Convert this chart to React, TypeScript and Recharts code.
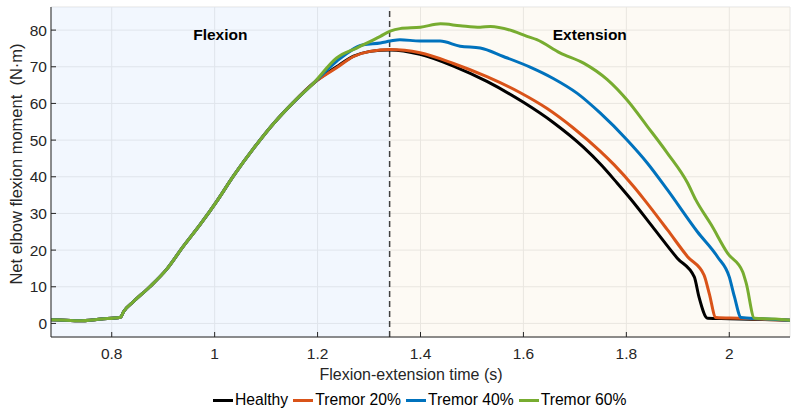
import React from 'react';
import { LineChart, Line, XAxis, YAxis, CartesianGrid, ReferenceArea, ReferenceLine, Legend } from 'recharts';

const FONT = '"Liberation Sans", Arial, Helvetica, sans-serif';

// Shared flexion phase (all conditions overlap)
const riseTime = [0.682, 0.71, 0.735, 0.78, 0.817, 0.823, 0.842, 0.874, 0.907, 0.939, 0.972, 1.004, 1.037, 1.076, 1.115, 1.153, 1.192];
const riseMoment = [1.0, 0.9, 0.7, 1.2, 1.7, 3.2, 5.9, 10.0, 14.8, 21.0, 27.0, 33.3, 40.3, 47.8, 54.6, 60.3, 65.5];

const healthyTime = [1.237, 1.27, 1.302, 1.341, 1.399, 1.464, 1.529, 1.6, 1.658, 1.717, 1.75, 1.782, 1.808, 1.854, 1.899, 1.932, 1.941, 1.958, 2.0, 2.06, 2.118];
const healthyMoment = [70.0, 72.9, 74.2, 74.6, 73.4, 70.2, 66.0, 60.3, 54.8, 48.0, 43.4, 38.3, 34.0, 25.8, 17.8, 12.7, 7.3, 1.4, 1.3, 1.1, 0.9];

const tremor20Time = [1.237, 1.27, 1.302, 1.341, 1.399, 1.464, 1.529, 1.594, 1.646, 1.697, 1.749, 1.776, 1.815, 1.834, 1.88, 1.919, 1.951, 1.961, 1.974, 2.02, 2.07, 2.118];
const tremor20Moment = [69.7, 72.8, 74.2, 74.7, 73.8, 70.9, 67.3, 62.9, 58.6, 53.3, 47.0, 43.3, 37.2, 33.9, 25.5, 18.2, 13.2, 8.2, 1.6, 1.4, 1.1, 0.9];

const tremor40Time = [1.237, 1.289, 1.322, 1.341, 1.36, 1.399, 1.438, 1.477, 1.516, 1.561, 1.613, 1.658, 1.704, 1.749, 1.801, 1.841, 1.88, 1.938, 1.977, 2.0, 2.01, 2.023, 2.06, 2.118];
const tremor40Moment = [71.5, 76.0, 76.5, 77.0, 77.4, 77.0, 77.0, 75.6, 75.1, 72.8, 69.9, 66.8, 62.8, 57.4, 50.1, 43.7, 36.4, 25.0, 18.2, 12.7, 7.3, 1.6, 1.3, 0.9];

const tremor60Time = [1.237, 1.276, 1.322, 1.341, 1.36, 1.4, 1.439, 1.477, 1.516, 1.536, 1.581, 1.607, 1.626, 1.671, 1.717, 1.763, 1.801, 1.841, 1.88, 1.919, 1.935, 1.965, 1.997, 2.026, 2.033, 2.049, 2.09, 2.118];
const tremor60Moment = [72.4, 75.1, 78.3, 79.7, 80.4, 80.8, 81.7, 81.2, 80.8, 81.0, 79.7, 78.3, 77.4, 73.8, 71.0, 66.5, 61.0, 53.7, 46.4, 38.3, 33.7, 26.9, 19.1, 14.1, 10.9, 1.4, 1.2, 0.9];

const seriesNames = ['Healthy', 'Tremor 20%', 'Tremor 40%', 'Tremor 60%'];
const seriesColors = ['#000000', '#D95319', '#0072BD', '#77AC30'];

const xTicks = [0.8, 1, 1.2, 1.4, 1.6, 1.8, 2];
const yTicks = [0, 10, 20, 30, 40, 50, 60, 70, 80];
const xDomain = [0.682, 2.118];
const yDomain = [-3.7, 86.3];
const phaseSplit = 1.34;

const build = (t: number[], v: number[]) => {
  const all = riseTime.map((x, i) => ({ t: x, m: riseMoment[i] }));
  return all.concat(t.map((x, i) => ({ t: x, m: v[i] })));
};

const seriesData = [
  build(healthyTime, healthyMoment),
  build(tremor20Time, tremor20Moment),
  build(tremor40Time, tremor40Moment),
  build(tremor60Time, tremor60Moment),
];

const tickStyle = { fill: '#262626', fontSize: 15.5, fontFamily: FONT };

const renderLegend = () => (
  <div style={{ paddingLeft: 213, paddingTop: 9, display: 'flex', justifyContent: 'flex-start', alignItems: 'center', fontFamily: FONT, fontSize: 15.7, color: '#000', lineHeight: '18px' }}>
    {seriesNames.map((n, i) => (
      <div key={n} style={{ display: 'flex', alignItems: 'center', marginRight: i < 3 ? 5 : 0 }}>
        <div style={{ width: 20, height: 3, background: seriesColors[i], marginRight: 2 }} />
        <span>{n}</span>
      </div>
    ))}
  </div>
);

export default function App() {
  return (
    <div style={{ position: 'absolute', left: 0, top: 0, width: 797, height: 412, background: '#fff' }}>
      <LineChart width={797} height={412} margin={{ top: 7, right: 7, bottom: 0, left: 0 }}>
        <ReferenceArea x1={xDomain[0]} x2={phaseSplit} fill="#dbe9fb" fillOpacity={0.35} stroke="none"
          label={{ value: 'Flexion', position: 'insideTop', offset: 22, fill: '#000', fontSize: 15.5, fontWeight: 'bold', fontFamily: FONT }} />
        <ReferenceArea x1={phaseSplit} x2={xDomain[1]} fill="#f8f0dc" fillOpacity={0.3} stroke="none"
          label={{ value: 'Extension', position: 'insideTop', offset: 22, fill: '#000', fontSize: 15.5, fontWeight: 'bold', fontFamily: FONT }} />
        <CartesianGrid stroke="#e3e3e3" strokeWidth={1} />
        <XAxis dataKey="t" type="number" domain={xDomain} ticks={xTicks} allowDataOverflow
          height={45} tickSize={-5} tickMargin={16} tick={tickStyle}
          axisLine={{ stroke: '#262626' }} tickLine={{ stroke: '#262626' }}
          label={{ content: () => (
            <text x={411} y={380} textAnchor="middle" fill="#262626" fontSize={16} fontFamily={FONT}>Flexion-extension time (s)</text>
          ) }} />
        <XAxis xAxisId="top" orientation="top" type="number" domain={xDomain} ticks={xTicks} allowDataOverflow
          height={0} tickSize={-5} tick={false} axisLine={{ stroke: '#262626' }} tickLine={{ stroke: '#262626' }} />
        <YAxis type="number" domain={yDomain} ticks={yTicks} allowDataOverflow width={51}
          tickSize={-5} tickMargin={9} tick={tickStyle}
          axisLine={{ stroke: '#262626' }} tickLine={{ stroke: '#262626' }}
          label={{ content: () => (
            <text x={15.5} y={164} transform="rotate(-90 15.5 164)" textAnchor="middle" dominantBaseline="central" fill="#262626" fontSize={16.5} fontFamily={FONT}>{'Net elbow flexion moment\u00a0\u00a0(N·m)'}</text>
          ) }} />
        <YAxis yAxisId="right" orientation="right" type="number" domain={yDomain} ticks={yTicks} allowDataOverflow width={0}
          tickSize={-5} tick={false} axisLine={{ stroke: '#262626' }} tickLine={{ stroke: '#262626' }} />
        <ReferenceLine x={phaseSplit} stroke="#404040" strokeWidth={1.5} strokeDasharray="6 4" />
        {seriesData.map((d, i) => (
          <Line key={seriesNames[i]} data={d} dataKey="m" name={seriesNames[i]} type="monotone"
            stroke={seriesColors[i]} strokeWidth={3} dot={false} activeDot={false} isAnimationActive={false} />
        ))}
        <Legend verticalAlign="bottom" height={30} content={renderLegend} />
      </LineChart>
    </div>
  );
}
